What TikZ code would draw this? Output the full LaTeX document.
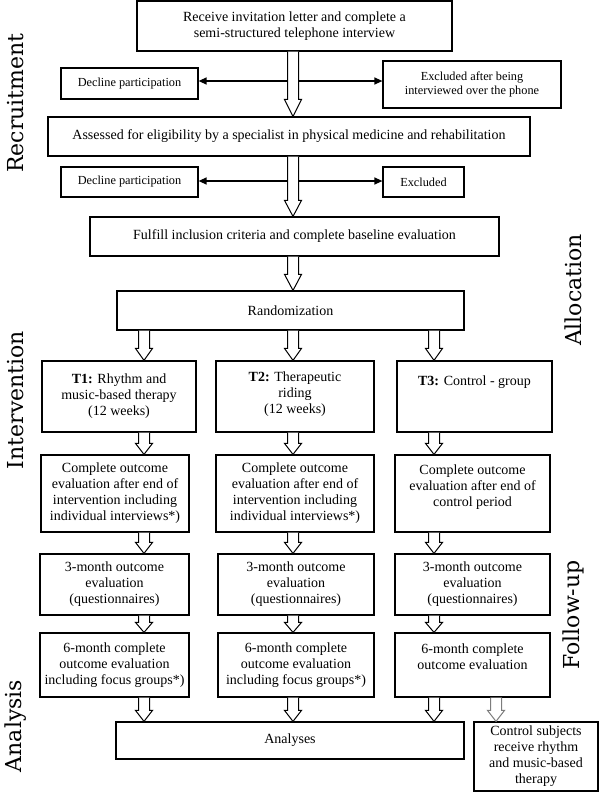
\documentclass[tikz,border=0pt]{standalone}
\usepackage{fontspec}
\setmainfont{Liberation Serif}
\newfontfamily\phasefont{DejaVu Serif}
\usepackage{xcolor}
\usepackage{tikz}
\usetikzlibrary{arrows.meta, positioning, calc}
\definecolor{ctrlgray}{RGB}{125,125,125}

% hollow block arrow: [style]{from}{to}{head length}
\newcommand{\fatarrow}[4][]{%
  \draw[fatline, #1] ($#2+(-5.5,0)$) -- ($#3+(-5.5,-#4)$) -- ($#3+(-8.5,-#4)$)
    -- #3 -- ($#3+(8.5,-#4)$) -- ($#3+(5.5,-#4)$) -- ($#2+(5.5,0)$);}

\begin{document}
\begin{tikzpicture}[
    x=1pt, y=-1pt,
    box/.style={draw, line width=1.2pt, align=center, inner sep=2pt, font=\fontsize{14}{16}\selectfont},
    dropbox/.style={box, font=\fontsize{12.3}{14}\selectfont},
    fatline/.style={line width=1pt, fill=white},
    thinarrow/.style={-{Triangle[length=8pt, width=7pt]}, line width=1.3pt},
    phase/.style={rotate=90, font=\phasefont\fontsize{22}{24}\selectfont}
]
    \useasboundingbox (0,0) rectangle (600,792);

    % Recruitment
    \node[box, minimum width=315pt, minimum height=50pt] (invite) at (294.5,26)
        {Receive invitation letter and complete a\\semi-structured telephone interview};
    \node[dropbox, minimum width=137pt, minimum height=31pt] (dec1) at (129.5,83.5) {Decline participation};
    \node[dropbox, minimum width=178pt, minimum height=47pt] (exc1) at (472,84.5)
        {Excluded after being\\interviewed over the phone};
    \node[box, minimum width=482pt, minimum height=39pt] (assess) at (289,136.5)
        {Assessed for eligibility by a specialist in physical medicine and rehabilitation};
    \node[dropbox, minimum width=137pt, minimum height=30pt] (dec2) at (129.5,182) {Decline participation};
    \node[dropbox, minimum width=81pt, minimum height=30pt] (exc2) at (423.5,182) {Excluded};
    \node[box, minimum width=409pt, minimum height=39pt] (fulfill) at (294.5,236.5)
        {Fulfill inclusion criteria and complete baseline evaluation};

    % Allocation
    \node[box, minimum width=347pt, minimum height=39pt] (rand) at (290.5,310.5) {Randomization};

    % Intervention
    \node[box, minimum width=154pt, minimum height=71pt] (t1) at (119,396.5)
        {\textbf{T1:} Rhythm and\\music-based therapy\\(12 weeks)};
    \node[box, minimum width=158pt, minimum height=71pt] (t2) at (295,396.5)
        {\textbf{T2:} Therapeutic\\riding\\(12 weeks)\\[-8pt]\mbox{}};
    \node[box, minimum width=155pt, minimum height=71pt] (t3) at (474.5,396.5)
        {\textbf{T3:} Control - group\\\mbox{}\\\mbox{}};

    \node[box, minimum width=148pt, minimum height=77pt] (o1) at (115,493.5)
        {Complete outcome\\evaluation after end of\\intervention including\\individual interviews*)};
    \node[box, minimum width=158pt, minimum height=77pt] (o2) at (295,493.5)
        {Complete outcome\\evaluation after end of\\intervention including\\individual interviews*)};
    \node[box, minimum width=155pt, minimum height=77pt] (o3) at (472.5,493.5)
        {Complete outcome\\evaluation after end of\\control period\\\mbox{}};

    % Follow-up
    \node[box, minimum width=149pt, minimum height=61pt] (m1) at (114.5,584.5)
        {3-month outcome\\evaluation\\(questionnaires)};
    \node[box, minimum width=156pt, minimum height=61pt] (m2) at (296,584.5)
        {3-month outcome\\evaluation\\(questionnaires)};
    \node[box, minimum width=155pt, minimum height=61pt] (m3) at (472.5,584.5)
        {3-month outcome\\evaluation\\(questionnaires)};

    \node[box, minimum width=149pt, minimum height=64pt] (s1) at (114.5,665)
        {6-month complete\\outcome evaluation\\including focus groups*)};
    \node[box, minimum width=156pt, minimum height=64pt] (s2) at (296,665)
        {6-month complete\\outcome evaluation\\including focus groups*)};
    \node[box, minimum width=155pt, minimum height=64pt] (s3) at (472.5,665)
        {6-month complete\\outcome evaluation\\\mbox{}};

    % Analysis
    \node[box, minimum width=348pt, minimum height=37pt] (ana) at (290,740.5) {Analyses};
    \node[box, minimum width=124pt, minimum height=69pt] (ctrl) at (536,756.5)
        {Control subjects\\receive rhythm\\and music-based\\therapy};

    % phase labels
    \node[phase] (lrec) at (16,103) {Recruitment};
    \node[phase] (lall) at (573,290) {Allocation};
    \node[phase] (lint) at (16,400) {Intervention};
    \node[phase] (lfol) at (573,615) {Follow-up};
    \node[phase] (lana) at (16,726) {Analysis};

    % columns of the block arrows
    \coordinate (cola) at (144,0);
    \coordinate (colb) at (293,0);
    \coordinate (colc) at (434,0);
    \coordinate (cold) at (496,0);
    \coordinate (fork1) at (293,81);
    \coordinate (fork2) at (293,181);

    \fatarrow{(invite.south -| colb)}{(assess.north -| colb)}{17}
    \fatarrow{(assess.south -| colb)}{(fulfill.north -| colb)}{16}
    \fatarrow{(fulfill.south -| colb)}{(rand.north -| colb)}{16}

    \foreach \c/\k in {cola/1, colb/2, colc/3} {
        \fatarrow{(rand.south -| \c)}{(t\k.north -| \c)}{12}
        \fatarrow{(t\k.south -| \c)}{(o\k.north -| \c)}{11}
        \fatarrow{(o\k.south -| \c)}{(m\k.north -| \c)}{11}
        \fatarrow{(m\k.south -| \c)}{(s\k.north -| \c)}{10}
        \fatarrow{(s\k.south -| \c)}{(ana.north -| \c)}{11}
    }
    \fatarrow[draw=ctrlgray]{(s3.south -| cold)}{(ctrl.north -| cold)}{11}

    % drop-outs
    \draw[thinarrow] ($(fork1)+(-6,0)$) -- (fork1 -| dec1.east);
    \draw[thinarrow] ($(fork1)+(6,0)$) -- (fork1 -| exc1.west);
    \draw[thinarrow] ($(fork2)+(-6,0)$) -- (fork2 -| dec2.east);
    \draw[thinarrow] ($(fork2)+(6,0)$) -- (fork2 -| exc2.west);
\end{tikzpicture}
\end{document}
